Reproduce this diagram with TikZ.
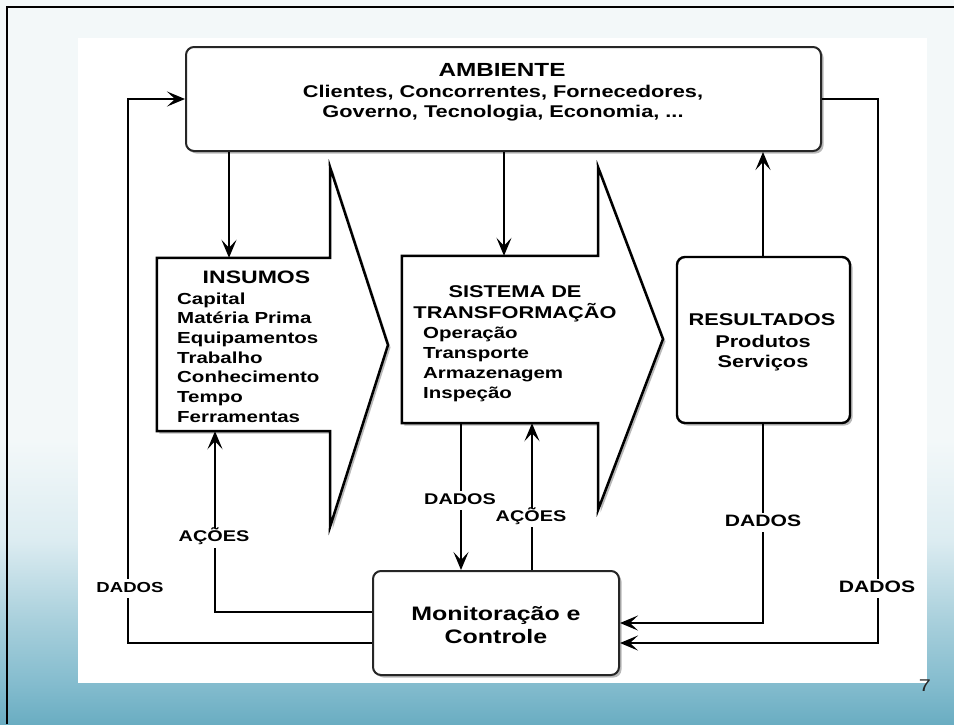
\documentclass[tikz,border=0pt]{standalone}
\usepackage{fontspec}
\newfontfamily\dfont{Liberation Sans}[FakeStretch=1.28]
\usetikzlibrary{arrows.meta,shadows,calc}
\definecolor{bgtop}{HTML}{F3F8F9}
\definecolor{bgA}{HTML}{DCECF1}
\definecolor{bgB}{HTML}{A9D0DC}
\definecolor{bgC}{HTML}{84BCCE}
\definecolor{bgbot}{HTML}{6AADC2}
\pgfdeclareverticalshading{slidebg}{100bp}{color(0bp)=(bgbot); color(25bp)=(bgbot); color(27.8bp)=(bgC); color(32.2bp)=(bgB); color(37.7bp)=(bgA); color(44.6bp)=(bgtop); color(75bp)=(bgtop); color(100bp)=(bgtop)}
\tikzset{
  txt/.style={inner sep=0pt, font=\dfont\bfseries, text=black},
  lbl/.style={fill=white, inner xsep=2pt, inner ysep=6pt, text height=0.72em, text depth=0pt, font=\dfont\bfseries},
  arr/.style={line width=2.4pt, -{Stealth[length=18pt,width=15pt,inset=8pt]}},
  shad/.style={drop shadow={shadow xshift=2.5pt, shadow yshift=-2.5pt, opacity=0.28, fill=black}},
  roundbox/.style={draw=black!85, line width=2pt, fill=white, rounded corners=8pt, inner sep=0pt, shad},
  chev/.style={draw=black, line width=2.5pt, fill=white, line join=miter, shad},
  ghost/.style={inner sep=0pt, draw=none}
}
\begin{document}
\begin{tikzpicture}[x=1pt,y=-1pt]
\useasboundingbox (0,0) rectangle (954,724);
% slide background
\shade[shading=slidebg] (0,0) rectangle (954,724);
\fill[white] (78,38) rectangle (927,683);
\draw[line width=2.5pt] (7,724) -- (7,7) -- (954,7);

% AMBIENTE
\node[roundbox, minimum width=635pt, minimum height=104pt] (amb) at (503.5,99) {};
\node[txt, anchor=base] (ambT) at (502,76) {\fontsize{19}{20}\selectfont AMBIENTE};
\node[txt, anchor=base] (ambL) at (503,97) {\fontsize{17}{20.5}\selectfont\begin{tabular}[t]{@{}c@{}}Clientes, Concorrentes, Fornecedores,\\ Governo, Tecnologia, Economia, ...\end{tabular}};

% INSUMOS chevron
\node[ghost, minimum width=173pt, minimum height=173pt] (ins) at (243.5,344.5) {};
\filldraw[chev] (ins.north west) -- (ins.north east) -- (330,167) -- (388,345) -- (330,527) -- (ins.south east) -- (ins.south west) -- cycle;
\node[txt, anchor=base] (insT) at (256.5,283) {\fontsize{18}{20}\selectfont INSUMOS};
\node[txt, anchor=base west] (insL) at (177,304) {\fontsize{16}{19.7}\selectfont\begin{tabular}[t]{@{}l@{}}Capital\\ Matéria Prima\\ Equipamentos\\ Trabalho\\ Conhecimento\\ Tempo\\ Ferramentas\end{tabular}};

% SISTEMA chevron
\node[ghost, minimum width=196pt, minimum height=167pt] (sis) at (500,339.5) {};
\filldraw[chev] (sis.north west) -- (sis.north east) -- (598,167) -- (663,339) -- (598,510) -- (sis.south east) -- (sis.south west) -- cycle;
\node[txt, anchor=base] (sisT) at (515,297) {\fontsize{17}{20}\selectfont\begin{tabular}[t]{@{}c@{}}SISTEMA DE\\ TRANSFORMAÇÃO\end{tabular}};
\node[txt, anchor=base west] (sisL) at (423,338) {\fontsize{16}{20}\selectfont\begin{tabular}[t]{@{}l@{}}Operação\\ Transporte\\ Armazenagem\\ Inspeção\end{tabular}};

% RESULTADOS
\node[roundbox, draw=black, line width=2.4pt, minimum width=173pt, minimum height=166pt] (res) at (763.5,340) {};
\node[txt, anchor=base] (resT) at (762,325) {\fontsize{17}{20}\selectfont RESULTADOS};
\node[txt, anchor=base] (resL) at (763,347) {\fontsize{17}{20}\selectfont\begin{tabular}[t]{@{}c@{}}Produtos\\ Serviços\end{tabular}};

% Monitoracao e Controle
\node[roundbox, minimum width=246pt, minimum height=104pt] (mon) at (496,623) {};
\node[txt, anchor=base] (monT) at (496,620) {\fontsize{19.5}{23}\selectfont\begin{tabular}[t]{@{}c@{}}Monitoração e\\ Controle\end{tabular}};

% helper coordinates
\coordinate (xa) at (229,0);
\coordinate (xb) at (504,0);
\coordinate (xc) at (763,0);
\coordinate (xd) at (461,0);
\coordinate (xe) at (532,0);
\coordinate (xf) at (215,0);
\coordinate (xl) at (128,0);
\coordinate (xr) at (878,0);
\coordinate (ya) at (0,99);
\coordinate (yb) at (0,643);
\coordinate (yc) at (0,623);
\coordinate (yf) at (0,612);

% connectors
\draw[arr] (xa |- amb.south) -- (xa |- ins.north);
\draw[arr] (xb |- amb.south) -- (xb |- sis.north);
\draw[arr] (xc |- res.north) -- (xc |- amb.south);
\draw[arr] (mon.west |- yb) -| (xl |- ya) -- (amb.west |- ya);
\draw[arr] (amb.east |- ya) -| (xr |- yb) -- (mon.east |- yb);
\draw[arr] (xc |- res.south) |- (mon.east |- yc);
\draw[arr] (xd |- sis.south) -- (xd |- mon.north);
\draw[arr] (xe |- mon.north) -- (xe |- sis.south);
\draw[arr] (mon.west |- yf) -| (xf |- ins.south);

% labels
\node[lbl, font=\dfont\bfseries\fontsize{14.5}{16}\selectfont] (d1) at (130,588.5) {DADOS};
\node[lbl, font=\dfont\bfseries\fontsize{15.5}{16}\selectfont] (a1) at (214,538) {AÇÕES};
\node[lbl, font=\dfont\bfseries\fontsize{15.5}{16}\selectfont] (d2) at (460,500.5) {DADOS};
\node[lbl, font=\dfont\bfseries\fontsize{15.5}{16}\selectfont] (a2) at (531,517.5) {AÇÕES};
\node[lbl, font=\dfont\bfseries\fontsize{16.5}{16}\selectfont] (d3) at (763,522.5) {DADOS};
\node[lbl, font=\dfont\bfseries\fontsize{16.5}{16}\selectfont] (d4) at (877,588.5) {DADOS};

% page number
\node[inner sep=0pt, anchor=base, font=\dfont\fontsize{17}{17}\selectfont, text=black!85] (pg) at (925,691) {7};
\end{tikzpicture}
\end{document}
